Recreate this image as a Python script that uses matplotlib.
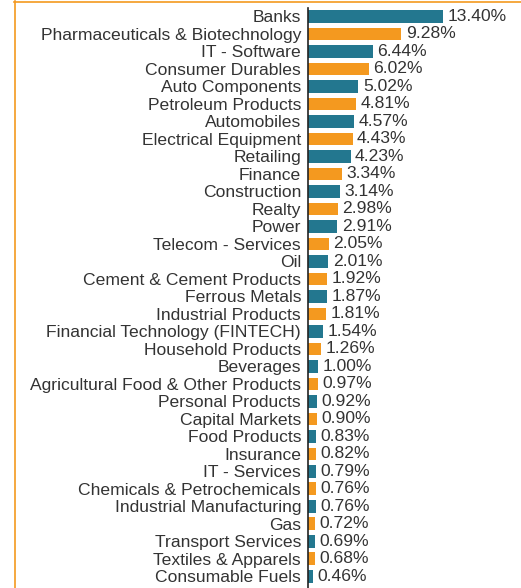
import numpy as np
import matplotlib
matplotlib.use("Agg")
import matplotlib.pyplot as plt
from matplotlib.lines import Line2D

sectors = [
    "Banks", "Pharmaceuticals & Biotechnology", "IT - Software", "Consumer Durables",
    "Auto Components", "Petroleum Products", "Automobiles", "Electrical Equipment",
    "Retailing", "Finance", "Construction", "Realty", "Power", "Telecom - Services",
    "Oil", "Cement & Cement Products", "Ferrous Metals", "Industrial Products",
    "Financial Technology (FINTECH)", "Household Products", "Beverages",
    "Agricultural Food & Other Products", "Personal Products", "Capital Markets",
    "Food Products", "Insurance", "IT - Services", "Chemicals & Petrochemicals",
    "Industrial Manufacturing", "Gas", "Transport Services", "Textiles & Apparels",
    "Consumable Fuels",
]
weights = [
    13.40, 9.28, 6.44, 6.02, 5.02, 4.81, 4.57, 4.43, 4.23, 3.34, 3.14, 2.98, 2.91,
    2.05, 2.01, 1.92, 1.87, 1.81, 1.54, 1.26, 1.00, 0.97, 0.92, 0.90, 0.83, 0.82,
    0.79, 0.76, 0.76, 0.72, 0.69, 0.68, 0.46,
]

teal = "#23778f"
orange = "#f4991f"
W, H = 521, 588
plt.rcParams["font.family"] = ["Liberation Sans", "DejaVu Sans"]
fs = 12.6

fig = plt.figure(figsize=(W / 100, H / 100), dpi=100)
ax = fig.add_axes([308 / W, 0, (W - 308) / W, (H - 8) / H])

y = np.arange(len(sectors))
colors = [teal if i % 2 == 0 else orange for i in y]
ax.barh(y, weights, height=0.72, color=colors)
for yi, w in zip(y, weights):
    ax.text(w + 0.45, yi, f"{w:.2f}%", va="center", ha="left",
            fontsize=fs, color="#333333")

ax.set_yticks(y)
ax.set_yticklabels(sectors, fontsize=fs, color="#333333")
ax.tick_params(axis="y", length=0, pad=5)
ax.set_xticks([])
ax.set_xlim(0, (W - 308) / 10.05)
n = len(sectors)
ax.set_ylim(n - 1 + 0.67, -0.48)
for s in ["top", "right", "bottom"]:
    ax.spines[s].set_visible(False)
ax.spines["left"].set_color("#222222")
ax.spines["left"].set_linewidth(1.2)

# outer frame lines
fig.add_artist(Line2D([14.5 / W, 14.5 / W], [0, 1 - 1 / H], color=orange, lw=1.2,
                      transform=fig.transFigure))
fig.add_artist(Line2D([14 / W, 1], [1 - 1.5 / H, 1 - 1.5 / H], color=orange, lw=1.2,
                      transform=fig.transFigure))

fig.savefig("out.png", dpi=100)
